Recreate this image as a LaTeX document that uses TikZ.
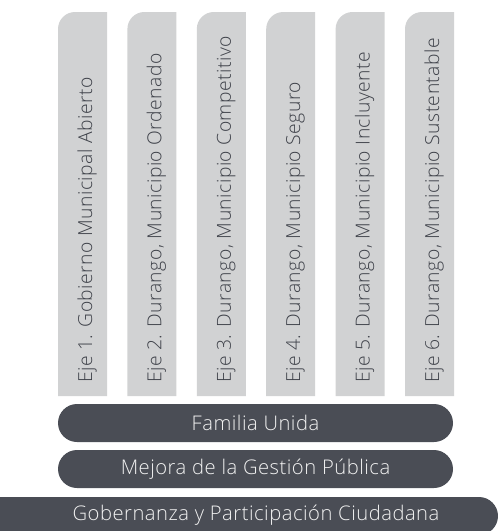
\documentclass[tikz,border=0pt]{standalone}
\usepackage{fontspec}
\setmainfont{Open Sans Light}[LetterSpace=2.5]
\definecolor{pillar}{HTML}{D1D2D3}
\definecolor{barcol}{HTML}{4A4D55}
\definecolor{ptext}{HTML}{3E4149}
\definecolor{btext}{HTML}{F2F2F2}
\tikzset{
  pillartext/.style={rotate=90,anchor=base west,inner sep=0pt,text=ptext,font=\fontsize{19.3}{22}\selectfont},
  bartext/.style={inner sep=0pt,text=btext,font=\fontsize{20.2}{24}\selectfont},
  barshape/.style={fill=barcol,rounded corners=19pt},
  pillarshape/.style={fill=pillar}
}
\begin{document}
\begin{tikzpicture}[x=1pt,y=-1pt]
\useasboundingbox (0,0) rectangle (498,531);
\clip (0,0) rectangle (498,531);
% pillars
\foreach \i/\t in {0/{Eje 1. Gobierno Municipal Abierto},
                   1/{Eje 2. Durango, Municipio Ordenado},
                   2/{Eje 3. Durango, Municipio Competitivo},
                   3/{Eje 4. Durango, Municipio Seguro},
                   4/{Eje 5. Durango, Municipio Incluyente},
                   5/{Eje 6. Durango, Municipio Sustentable}}{
  \pgfmathsetmacro{\xl}{58+69.4*\i}
  \fill[pillarshape] (\xl,396) -- (\xl,29) arc[start angle=180,end angle=270,radius=17] -- (\xl+49,12) -- (\xl+49,396) -- cycle;
  \node[pillartext] (eje\i) at (\xl+34,383) {\t};
}
% bars
\fill[barshape] (58,404) rectangle (453,442);
\node[bartext] (familia) at (255.5,423) {Familia Unida};
\fill[barshape] (58,450) rectangle (453,488);
\node[bartext] (mejora) at (255.5,469) {Mejora de la Gestión Pública};
\fill[barshape] (-30,497) rectangle (498,535);
\node[bartext] (gobernanza) at (256,515) {Gobernanza y Participación Ciudadana};
\end{tikzpicture}
\end{document}
